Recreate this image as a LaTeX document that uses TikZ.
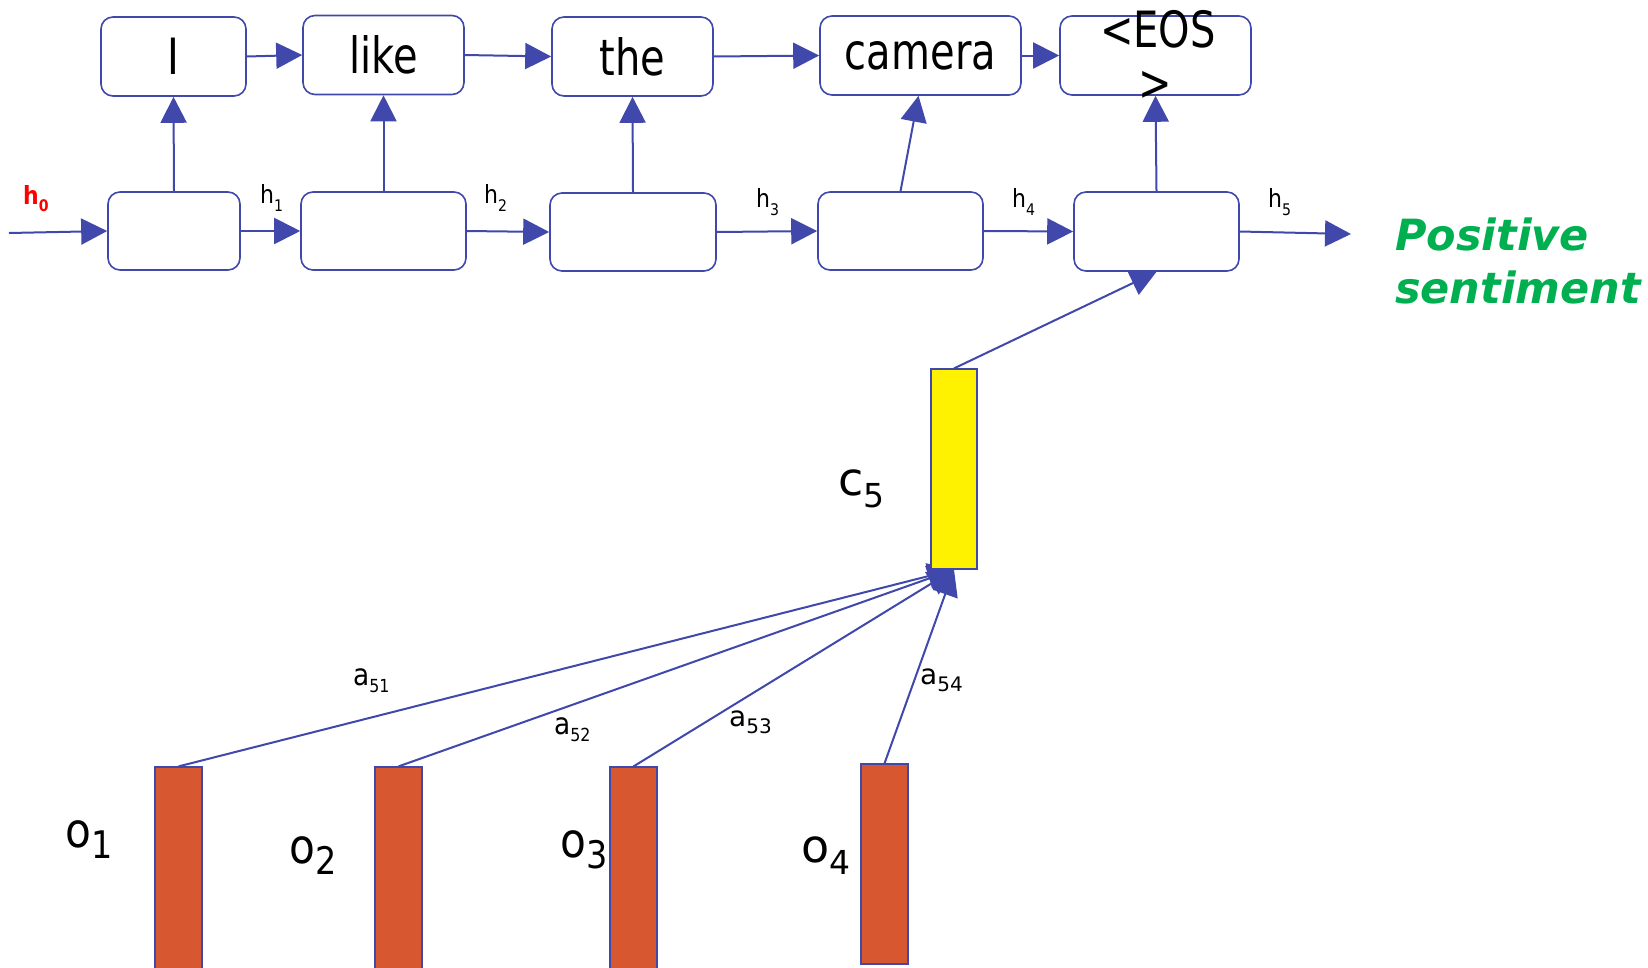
\documentclass[tikz,border=0pt]{standalone}
\usepackage{fontspec}
\setmainfont{DejaVu Sans}
\newfontfamily\tah{DejaVu Sans}[FakeStretch=0.88]
\newfontfamily\tahb{DejaVu Sans}[FakeStretch=0.8]
\usetikzlibrary{arrows.meta,backgrounds}
\definecolor{lb}{HTML}{4048AC}
\definecolor{og}{HTML}{D75731}
\definecolor{gr}{HTML}{00B050}
\newcommand\lsub[3]{\raisebox{-#1pt}{\fontsize{#2}{#2}\selectfont #3}}
\begin{document}
\begin{tikzpicture}[x=1pt,y=-1pt,
  wbox/.style={draw=lb, line width=1.6pt, rounded corners=12pt, fill=white, inner sep=0pt,
    minimum height=79pt, font=\tahb\fontsize{50}{50}\selectfont},
  arr/.style={draw=lb, line width=2pt, -{Triangle[length=26pt,width=26pt]}},
  bar/.style={draw=lb, line width=1.2pt, inner sep=0pt, minimum width=47pt},
  lab/.style={anchor=base west, inner sep=0pt},
  hl/.style={lab, font=\tah\fontsize{25}{25}\selectfont},
  al/.style={lab, font=\tah\fontsize{30}{30}\selectfont},
  av/.style={lab, font=\fontsize{28}{28}\selectfont},
  ol/.style={lab, font=\tah\fontsize{48}{48}\selectfont},
  cl/.style={lab, font=\fontsize{46}{46}\selectfont},
  posl/.style={lab, text=gr, font=\bfseries\itshape\fontsize{43}{43}\selectfont}]
\useasboundingbox (0,0) rectangle (1648,967);

% top row
\node[wbox, minimum width=145pt] (tI) at (173.5,56.5) {I};
\node[wbox, minimum width=161pt] (tlike) at (383.5,55) {like};
\node[wbox, minimum width=161pt] (tthe) at (632.5,56.5) {the};
\node[wbox, minimum width=201pt] (tcam) at (920.5,55.5) {camera};
\node[wbox, minimum width=191pt] (tEOS) at (1155.5,55.5) {};
\node[inner sep=0pt, font=\tahb\fontsize{50}{50}\selectfont] (eos1) at (1158,29) {<EOS};
\node[inner sep=0pt, font=\tahb\fontsize{50}{50}\selectfont] (eos2) at (1155,86) {>};

% bottom row
\node[wbox, minimum width=132pt, minimum height=78pt] (b1) at (174,231) {};
\node[wbox, minimum width=165pt, minimum height=78pt] (b2) at (383.5,231) {};
\node[wbox, minimum width=166pt, minimum height=78pt] (b3) at (633,232) {};
\node[wbox, minimum width=165pt, minimum height=78pt] (b4) at (900.5,231) {};
\node[wbox, minimum width=165pt, minimum height=79pt] (b5) at (1156.5,231.5) {};

\coordinate (in) at (9,233);
\coordinate (out) at (1351,234);

\draw[arr] (in) -- (b1.west);
\draw[arr] (b1.east) -- (b2.west);
\draw[arr] (b2.east) -- (b3.west);
\draw[arr] (b3.east) -- (b4.west);
\draw[arr] (b4.east) -- (b5.west);
\draw[arr] (b5.east) -- (out);

\draw[arr] (b1.north) -- (tI.south);
\draw[arr] (b2.north) -- (tlike.south);
\draw[arr] (b3.north) -- (tthe.south);
\draw[arr] (b4.north) -- ([xshift=-2pt]tcam.south);
\draw[arr] (b5.north) -- (tEOS.south);

\draw[arr] (tI.east) -- (tlike.west);
\draw[arr] (tlike.east) -- (tthe.west);
\draw[arr] (tthe.east) -- (tcam.west);
\draw[arr] (tcam.east) -- (tEOS.west);

% hidden labels
\node[hl, text=red, font=\tah\bfseries\fontsize{25}{25}\selectfont] (h0) at (23,204) {h\lsub{7}{16}{0}};
\node[hl] (h1) at (260,203) {h\lsub{8}{16}{1}};
\node[hl] (h2) at (484,203) {h\lsub{8}{16}{2}};
\node[hl] (h3) at (756,207) {h\lsub{8}{16}{3}};
\node[hl] (h4) at (1012,207) {h\lsub{8}{16}{4}};
\node[hl] (h5) at (1268,207) {h\lsub{8}{16}{5}};

\node[posl] (p1) at (1395,250) {Positive};
\node[posl] (p2) at (1395,303) {sentiment};

% context vector
\node[bar, fill=yellow, minimum width=46pt, minimum height=200pt] (c5) at (954,469) {};
\node[cl] (c5l) at (838,495) {c\lsub{12}{33}{5}};

% encoder outputs
\node[bar, fill=og, minimum height=208pt] (o1) at (178.5,871) {};
\node[bar, fill=og, minimum height=208pt] (o2) at (398.5,871) {};
\node[bar, fill=og, minimum height=208pt] (o3) at (633.5,871) {};
\node[bar, fill=og, minimum height=200pt] (o4) at (884.5,864) {};

\node[ol] (o1l) at (65,847) {o\lsub{11}{38}{1}};
\node[ol] (o2l) at (289,863) {o\lsub{11}{38}{2}};
\node[ol] (o3l) at (560,857) {o\lsub{11}{38}{3}};
\node[cl] (o4l) at (801,862) {o\lsub{12}{33}{4}};

\begin{scope}[on background layer]
\fill[white] (0,0) rectangle (1648,967);
\draw[arr] (c5.north) -- (b5.south);
\draw[arr] (o1.north) -- (c5.south);
\draw[arr] (o2.north) -- (c5.south);
\draw[arr] (o3.north) -- (c5.south);
\draw[arr] (o4.north) -- (c5.south);
\end{scope}

\node[al] (a51) at (353,685) {a\lsub{7}{18}{51}};
\node[al] (a52) at (554,734) {a\lsub{7}{18}{52}};
\node[av] (a53) at (729,726) {a\lsub{7}{20}{53}};
\node[av] (a54) at (920,684) {a\lsub{7}{20}{54}};
\end{tikzpicture}
\end{document}
